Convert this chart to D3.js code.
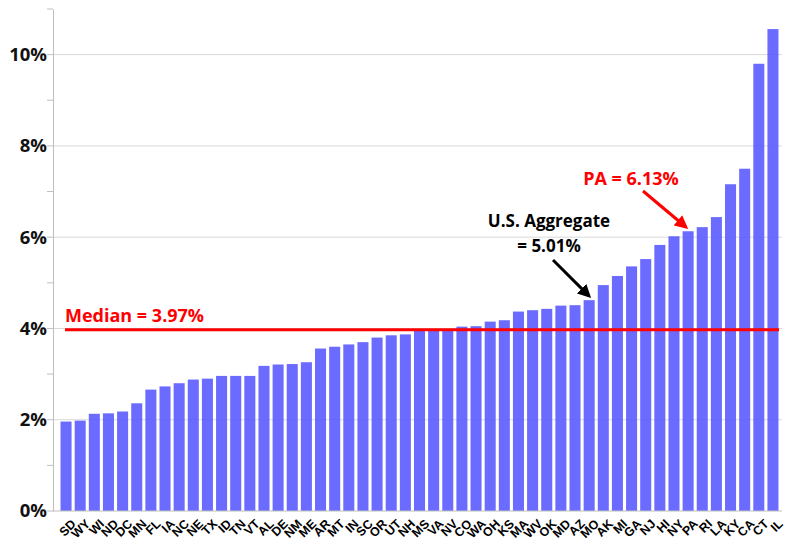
<!DOCTYPE html>
<html>
<head>
<meta charset="utf-8">
<script src="https://cdn.jsdelivr.net/npm/d3@7"></script>
<style>
body { margin: 0; background: #fff; }
svg { display: block; }
</style>
</head>
<body>
<div id="chart"></div>
<script>
const states = ["SD","WY","WI","ND","DC","MN","FL","IA","NC","NE","TX","ID","TN","VT","AL","DE","NM","ME","AR","MT","IN","SC","OR","UT","NH","MS","VA","NV","CO","WA","OH","KS","MA","WV","OK","MD","AZ","MO","AK","MI","GA","NJ","HI","NY","PA","RI","LA","KY","CA","CT","IL"];
const rates = [1.96,1.98,2.13,2.14,2.18,2.36,2.66,2.73,2.80,2.88,2.90,2.96,2.96,2.96,3.18,3.21,3.22,3.26,3.56,3.60,3.65,3.70,3.80,3.85,3.87,3.95,3.97,3.98,4.04,4.05,4.15,4.18,4.37,4.40,4.43,4.50,4.51,4.62,4.95,5.15,5.36,5.52,5.83,6.02,6.13,6.22,6.44,7.16,7.50,9.80,10.56];
const majorTicks = [0,2,4,6,8,10];
const minorTicks = [1,3,5,7,9,11];
const median = 3.97;
const usAggregate = 5.01;
const paValue = 6.13;

const width = 789, height = 550;
const margin = {top: 9, right: 7, bottom: 39, left: 53};

const svg = d3.select('#chart').append('svg')
    .attr('width', width)
    .attr('height', height);

const x = d3.scaleBand()
    .domain(states)
    .range([margin.left + 4, width - margin.right])
    .paddingInner(0.22)
    .paddingOuter(0.25);

const y = d3.scaleLinear()
    .domain([0, 11])
    .range([height - margin.bottom, margin.top]);

// gridlines
svg.append('g')
    .selectAll('line')
    .data(majorTicks.filter(d => d > 0))
    .join('line')
    .attr('x1', margin.left)
    .attr('x2', width - margin.right)
    .attr('y1', d => y(d))
    .attr('y2', d => y(d))
    .attr('stroke', '#d9d9d9')
    .attr('stroke-width', 1);

// y axis
const yAxis = svg.append('g')
    .attr('transform', `translate(${margin.left},0)`)
    .call(d3.axisLeft(y).tickValues(majorTicks).tickFormat(d => d + '%').tickSize(0).tickPadding(6));
yAxis.select('.domain').attr('stroke', '#bfbfbf');
yAxis.selectAll('text')
    .attr('font-family', 'Open Sans, sans-serif')
    .attr('font-weight', 'bold')
    .attr('font-size', 18.5)
    .attr('fill', '#111');

svg.append('g')
    .selectAll('line')
    .data(minorTicks.concat(majorTicks))
    .join('line')
    .attr('x1', margin.left - 6)
    .attr('x2', margin.left)
    .attr('y1', d => y(d))
    .attr('y2', d => y(d))
    .attr('stroke', '#bfbfbf');

// bars
svg.append('g')
    .selectAll('rect')
    .data(states)
    .join('rect')
    .attr('x', d => x(d))
    .attr('width', x.bandwidth())
    .attr('y', (d, i) => y(rates[i]))
    .attr('height', (d, i) => y(0) - y(rates[i]))
    .attr('fill', '#5656ff')
    .attr('fill-opacity', 0.88);

// x axis line
svg.append('line')
    .attr('x1', margin.left)
    .attr('x2', width - margin.right)
    .attr('y1', y(0))
    .attr('y2', y(0))
    .attr('stroke', '#bfbfbf');

// x labels
svg.append('g')
    .selectAll('text')
    .data(states)
    .join('text')
    .attr('transform', d => `translate(${x(d) + x.bandwidth() / 2 + 4},${y(0) + 7}) rotate(-45)`)
    .attr('text-anchor', 'end')
    .attr('dy', '0.75em')
    .attr('font-family', 'Liberation Sans, Arial, sans-serif')
    .attr('font-weight', 'bold')
    .attr('font-size', 12.5)
    .attr('fill', '#000')
    .text(d => d);

// median line
svg.append('line')
    .attr('x1', 65)
    .attr('x2', width - margin.right - 3)
    .attr('y1', y(median))
    .attr('y2', y(median))
    .attr('stroke', '#ff0000')
    .attr('stroke-width', 3);

svg.append('text')
    .attr('x', 65)
    .attr('y', y(median) - 8)
    .attr('font-family', 'Open Sans, sans-serif')
    .attr('font-weight', 'bold')
    .attr('font-size', 18)
    .attr('fill', '#ff0000')
    .text('Median = ' + median.toFixed(2) + '%');

// arrows
const defs = svg.append('defs');
function marker(id, color) {
    defs.append('marker')
        .attr('id', id)
        .attr('viewBox', '0 0 10 10')
        .attr('refX', 8)
        .attr('refY', 5)
        .attr('markerWidth', 4.5)
        .attr('markerHeight', 4.5)
        .attr('orient', 'auto')
        .append('path')
        .attr('d', 'M0,0 L10,5 L0,10 Z')
        .attr('fill', color);
}
marker('arrRed', '#ff0000');
marker('arrBlack', '#000');

const paX = x('PA') + x.bandwidth() / 2;
svg.append('text')
    .attr('x', 631)
    .attr('y', 185)
    .attr('text-anchor', 'middle')
    .attr('font-family', 'Open Sans, sans-serif')
    .attr('font-weight', 'bold')
    .attr('font-size', 18)
    .attr('fill', '#ff0000')
    .text('PA = ' + paValue.toFixed(2) + '%');
svg.append('line')
    .attr('x1', 643)
    .attr('y1', 191)
    .attr('x2', paX - 2)
    .attr('y2', y(paValue) - 4)
    .attr('stroke', '#ff0000')
    .attr('stroke-width', 3)
    .attr('marker-end', 'url(#arrRed)');

const moX = x('MO') + x.bandwidth() / 2;
svg.append('text')
    .attr('x', 549)
    .attr('y', 227)
    .attr('text-anchor', 'middle')
    .attr('font-family', 'Open Sans, sans-serif')
    .attr('font-weight', 'bold')
    .attr('font-size', 17)
    .attr('fill', '#000')
    .text('U.S. Aggregate');
svg.append('text')
    .attr('x', 549)
    .attr('y', 252)
    .attr('text-anchor', 'middle')
    .attr('font-family', 'Open Sans, sans-serif')
    .attr('font-weight', 'bold')
    .attr('font-size', 17)
    .attr('fill', '#000')
    .text('= ' + usAggregate.toFixed(2) + '%');
svg.append('line')
    .attr('x1', 553)
    .attr('y1', 260)
    .attr('x2', moX)
    .attr('y2', y(rates[states.indexOf('MO')]) - 4)
    .attr('stroke', '#000')
    .attr('stroke-width', 3)
    .attr('marker-end', 'url(#arrBlack)');
</script>
</body>
</html>
